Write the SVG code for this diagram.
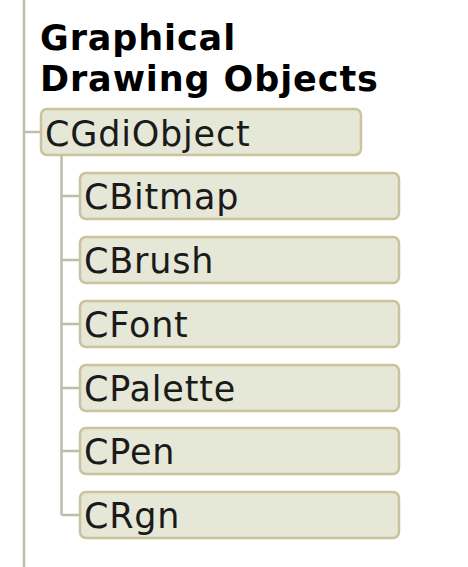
<svg xmlns="http://www.w3.org/2000/svg" width="468" height="567" viewBox="0 0 468 567">
<style>
.box{fill:#e5e7d7;stroke:#c9c49b;stroke-width:2.5}
.lbl{font-family:"DejaVu Sans",Verdana,sans-serif;font-size:35px;fill:#1a1a1a;letter-spacing:0.8px}
.ttl{font-family:"DejaVu Sans",Verdana,sans-serif;font-size:35px;font-weight:bold;fill:#000;letter-spacing:0.9px}
.ln{stroke:#bdbdae;stroke-width:2.5;fill:none}
</style>
<rect width="468" height="567" fill="#fff"/>
<g id="connectors">
<line class="ln" x1="24" y1="0" x2="24" y2="567"/>
<line class="ln" x1="24" y1="132" x2="41" y2="132"/>
<path class="ln" d="M61.5 155 V515 M61.5 196 H80 M61.5 260 H80 M61.5 324 H80 M61.5 388 H80 M61.5 451 H80 M61.5 515 H80"/>
</g>
<g id="title">
<text class="ttl" x="40" y="50">Graphical</text>
<text class="ttl" x="40" y="91">Drawing Objects</text>
</g>
<g id="CGdiObject"><rect class="box" x="41" y="109" width="320" height="46" rx="6"/><text class="lbl" x="45" y="146">CGdiObject</text></g>
<g id="CBitmap"><rect class="box" x="80" y="173" width="319" height="46" rx="6"/><text class="lbl" x="84" y="209">CBitmap</text></g>
<g id="CBrush"><rect class="box" x="80" y="237" width="319" height="46" rx="6"/><text class="lbl" x="84" y="273">CBrush</text></g>
<g id="CFont"><rect class="box" x="80" y="301" width="319" height="46" rx="6"/><text class="lbl" x="84" y="337">CFont</text></g>
<g id="CPalette"><rect class="box" x="80" y="365" width="319" height="46" rx="6"/><text class="lbl" x="84" y="401">CPalette</text></g>
<g id="CPen"><rect class="box" x="80" y="428" width="319" height="46" rx="6"/><text class="lbl" x="84" y="464">CPen</text></g>
<g id="CRgn"><rect class="box" x="80" y="492" width="319" height="46" rx="6"/><text class="lbl" x="84" y="528">CRgn</text></g>
</svg>
